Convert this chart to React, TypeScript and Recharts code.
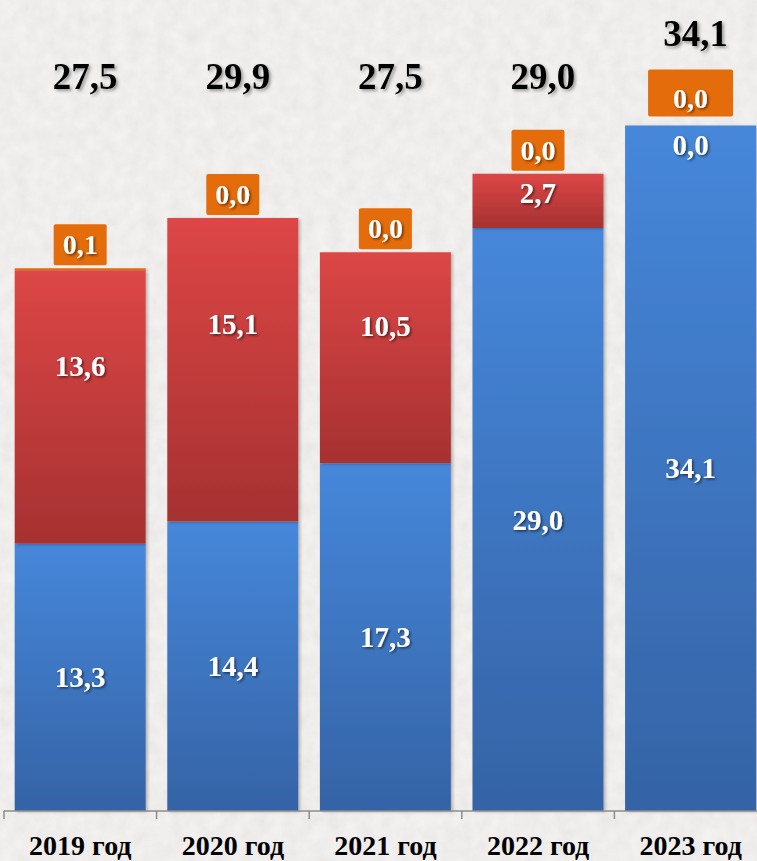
import { Bar, BarChart, LabelList, XAxis, YAxis } from "recharts";

const years = ["2019 год", "2020 год", "2021 год", "2022 год", "2023 год"];
const blueValues = [13.3, 14.4, 17.3, 29.0, 34.1];
const redValues = [13.6, 15.1, 10.5, 2.7, 0.0];
const orangeValues = [0.1, 0.0, 0.0, 0.0, 0.0];
const totalValues = [27.5, 29.9, 27.5, 29.0, 34.1];

const data = years.map((year, i) => ({
  year,
  blue: blueValues[i],
  red: redValues[i],
  orange: orangeValues[i],
}));

const W = 767;
const H = 861;
const MARGIN = { top: 7, right: 0, bottom: 0, left: 4 };
const AXIS_H = 50;
const AXIS_Y = H - AXIS_H;
const BAND = (W - MARGIN.left - MARGIN.right) / years.length;
const FONT = "'Liberation Serif', 'Times New Roman', serif";
const TOTAL_Y = 76;

const fmt = (v: unknown) => Number(v).toFixed(1).replace(".", ",");

function box(p: any) {
  const vb = p.viewBox ?? {};
  return {
    x: Number(p.x ?? vb.x),
    y: Number(p.y ?? vb.y),
    w: Number(p.width ?? vb.width),
    h: Number(p.height ?? vb.height),
  };
}

function WhiteText({ x, y, size = 29, children }: any) {
  return (
    <text x={x} y={y} textAnchor="middle" dominantBaseline="central" fill="#fff"
      fontFamily={FONT} fontWeight="bold" fontSize={size} filter="url(#txtShadow)">
      {children}
    </text>
  );
}

function BlueLabel(p: any) {
  const { x, y, w, h } = box(p);
  return <WhiteText x={x + w / 2} y={y + h / 2}>{fmt(p.value)}</WhiteText>;
}

// red value, orange badge and total, placed from the blue bar's scale
function StackLabels(p: any) {
  const { x, y, w, h } = box(p);
  const i = years.indexOf(String(p.value));
  if (i < 0) return null;
  const k = h / blueValues[i];
  const redH = redValues[i] * k;
  const redTop = y - redH;
  const top = redTop - orangeValues[i] * k;
  const cx = x + w / 2;
  const last = i === years.length - 1;
  const bw = last ? 85 : 53;
  const bh = last ? 47 : 41;
  const bTop = top - (last ? 9 : 3) - bh;
  const totalY = Math.min(TOTAL_Y, bTop - 36);
  return (
    <g>
      <WhiteText x={cx} y={redTop + Math.max(redH * 0.35, 19)}>{fmt(redValues[i])}</WhiteText>
      <rect x={cx - bw / 2} y={bTop} width={bw} height={bh} rx={2} fill="#e46c0a" />
      <WhiteText x={cx} y={bTop + bh / 2 + (last ? 5 : 0)} size={28}>{fmt(orangeValues[i])}</WhiteText>
      <text x={cx + 5} y={totalY} textAnchor="middle" dominantBaseline="central" fill="#000"
        fontFamily={FONT} fontWeight="bold" fontSize={37} filter="url(#totShadow)">
        {fmt(totalValues[i])}
      </text>
    </g>
  );
}

function YearTick(p: any) {
  const { x, payload } = p;
  const bx = x - BAND / 2;
  return (
    <g>
      <line x1={bx} x2={bx} y1={AXIS_Y} y2={AXIS_Y + 8} stroke="#8c8c8c" strokeWidth={1.5} />
      <text x={x} y={AXIS_Y + 44} textAnchor="middle" fill="#000" fontFamily={FONT}
        fontWeight="bold" fontSize={28}>
        {payload.value}
      </text>
    </g>
  );
}

export default function App() {
  return (
    <div style={{ position: "fixed", left: 0, top: 0, width: 757, height: H, overflow: "hidden", background: "#f4f2f0" }}>
      <style>{`.recharts-bar-rectangles { filter: url(#barShadow); }`}</style>
      <svg width={757} height={H} style={{ position: "absolute", left: 0, top: 0 }}>
        <filter id="paper">
          <feTurbulence type="fractalNoise" baseFrequency="0.07" numOctaves={3} seed={4} />
          <feColorMatrix type="matrix" values="0 0 0 0 0.55  0 0 0 0 0.53  0 0 0 0 0.52  0 0 0 0.6 -0.12" />
        </filter>
        <rect width={757} height={H} filter="url(#paper)" opacity={0.5} />
      </svg>
      <div style={{ position: "absolute", left: 0, top: 0 }}>
        <BarChart width={W} height={H} data={data} margin={MARGIN} barCategoryGap="7%">
          <defs>
            <linearGradient id="blueGrad" x1="0" y1="0" x2="0" y2="1">
              <stop offset="0%" stopColor="#4687da" />
              <stop offset="100%" stopColor="#3563a6" />
            </linearGradient>
            <linearGradient id="redGrad" x1="0" y1="0" x2="0" y2="1">
              <stop offset="0%" stopColor="#dd4646" />
              <stop offset="100%" stopColor="#a63131" />
            </linearGradient>
            <filter id="txtShadow" x="-20%" y="-20%" width="140%" height="140%">
              <feDropShadow dx={1.5} dy={1.5} stdDeviation={1} floodColor="#000" floodOpacity={0.55} />
            </filter>
            <filter id="totShadow" x="-20%" y="-20%" width="140%" height="140%">
              <feDropShadow dx={2} dy={2} stdDeviation={1.5} floodColor="#444" floodOpacity={0.5} />
            </filter>
            <filter id="barShadow" x="-5%" y="-5%" width="110%" height="110%">
              <feDropShadow dx={2} dy={1} stdDeviation={1.5} floodColor="#000" floodOpacity={0.25} />
            </filter>
          </defs>
          <XAxis dataKey="year" height={AXIS_H} axisLine={{ stroke: "#8c8c8c", strokeWidth: 1.5 }}
            tickLine={false} tick={<YearTick />} interval={0} />
          <YAxis hide domain={[0, 40]} />
          <Bar dataKey="blue" stackId="s" fill="url(#blueGrad)" isAnimationActive={false}>
            <LabelList dataKey="blue" content={<BlueLabel />} />
            <LabelList dataKey="year" content={<StackLabels />} />
          </Bar>
          <Bar dataKey="red" stackId="s" fill="url(#redGrad)" isAnimationActive={false} />
          <Bar dataKey="orange" stackId="s" fill="#e46c0a" isAnimationActive={false} />
        </BarChart>
      </div>
    </div>
  );
}
